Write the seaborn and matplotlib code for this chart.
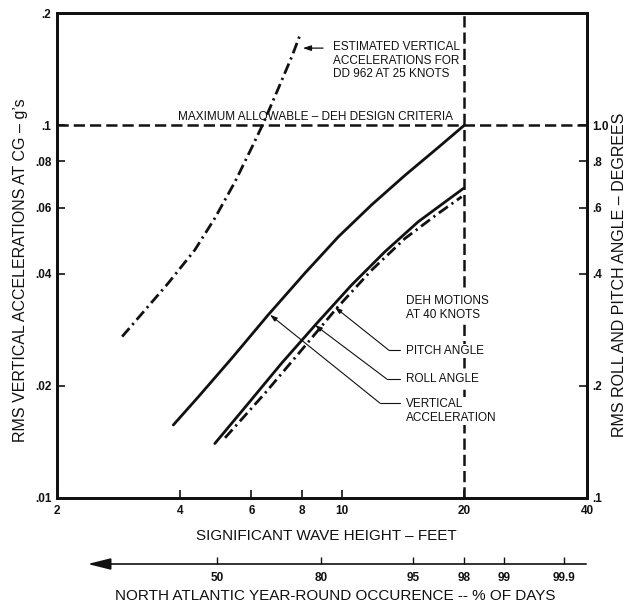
import numpy as np
import pandas as pd
import matplotlib
matplotlib.use("Agg")
import matplotlib.pyplot as plt
from matplotlib.ticker import FixedLocator, NullLocator, FixedFormatter
import seaborn as sns

# ---------------- data ----------------
va_wave = [3.86, 4.45, 5.37, 6.60, 8.12, 9.81, 11.85, 14.30, 17.26, 20.0]   # DEH vertical accel
va_g = [0.0157, 0.0187, 0.0237, 0.0310, 0.0401, 0.0502, 0.0612, 0.0734, 0.0872, 0.100]
roll_wave = [4.88, 5.90, 7.12, 8.68, 10.58, 12.77, 15.41, 19.9]            # DEH roll (deg)
roll_deg = [0.140, 0.1795, 0.230, 0.294, 0.373, 0.458, 0.551, 0.677]
pitch_wave = [5.17, 6.48, 7.97, 9.72, 11.85, 14.30, 17.26, 19.7]          # DEH pitch (deg)
pitch_deg = [0.145, 0.191, 0.2495, 0.323, 0.409, 0.497, 0.580, 0.643]
dd_wave = [2.89, 3.75, 4.36, 4.88, 5.47, 6.01, 6.42, 6.99, 7.54, 7.90]   # DD 962 at 25 knots
dd_g = [0.0271, 0.0377, 0.0463, 0.0563, 0.0705, 0.0870, 0.1012, 0.1256, 0.1527, 0.1746]

max_allow_g = 0.1
deh_wave_limit = 20

x_ticks = [2, 4, 6, 8, 10, 20, 40]
x_ticklabels = ['2', '4', '6', '8', '10', '20', '40']
y_ticks = [0.01, 0.02, 0.04, 0.06, 0.08, 0.1, 0.2]
y_ticklabels = ['.01', '.02', '.04', '.06', '.08', '.1', '.2']
r_ticks = [0.1, 0.2, 0.4, 0.6, 0.8, 1.0]
r_ticklabels = ['.1', '.2', '.4', '.6', '.8', '1.0']
occ_labels = ['50', '80', '95', '98', '99', '99.9']
occ_wave = [4.95, 8.9, 15.0, 20.0, 25.0, 35.1]

# ---------------- style ----------------
sns.set_style("white")
plt.rcParams['font.family'] = ['Liberation Sans', 'DejaVu Sans']
INK = '#111111'

W, H = 637, 603
fig = plt.figure(figsize=(W / 100, H / 100), dpi=100)
fig.patch.set_facecolor('white')

L, R, T, B = 57, 587, 13, 498
ax = fig.add_axes([L / W, (H - B) / H, (R - L) / W, (B - T) / H])
ax.set_xscale('log')
ax.set_yscale('log')
ax.set_xlim(2, 40)
ax.set_ylim(0.01, 0.2)
ax2 = ax.twinx()
ax2.set_yscale('log')
ax2.set_ylim(0.1, 2.0)

dashdot = (0, (4.0, 1.6, 0.8, 1.6))
dashed = (0, (4.5, 2.0))

# curves
sns.lineplot(x=va_wave, y=va_g, ax=ax, color=INK, lw=2.0, sort=False)
sns.lineplot(x=dd_wave, y=dd_g, ax=ax, color=INK, lw=2.0, linestyle=dashdot, sort=False)
sns.lineplot(x=roll_wave, y=roll_deg, ax=ax2, color=INK, lw=2.0, sort=False)
sns.lineplot(x=pitch_wave, y=pitch_deg, ax=ax2, color=INK, lw=2.0, linestyle=dashdot, sort=False)

# criteria lines
ax.axhline(max_allow_g, color=INK, lw=1.8, linestyle=dashed, zorder=1)
ax.vlines(deh_wave_limit, 0.0368, 0.2, color=INK, lw=1.8, linestyle=dashed, zorder=1)
ax.vlines(deh_wave_limit, 0.01, 0.0297, color=INK, lw=1.8, linestyle=dashed, zorder=1)

# ticks
for a in (ax, ax2):
    a.xaxis.set_minor_locator(NullLocator())
    a.yaxis.set_minor_locator(NullLocator())
ax.xaxis.set_major_locator(FixedLocator(x_ticks))
ax.xaxis.set_major_formatter(FixedFormatter(x_ticklabels))
ax.yaxis.set_major_locator(FixedLocator(y_ticks))
ax.yaxis.set_major_formatter(FixedFormatter(y_ticklabels))
ax2.yaxis.set_major_locator(FixedLocator(r_ticks))
ax2.yaxis.set_major_formatter(FixedFormatter(r_ticklabels))

tick_kw = dict(direction='in', length=6, width=1.2, colors=INK, labelsize=8.5)
ax.tick_params(axis='x', pad=5, bottom=True, top=False, **tick_kw)
ax.tick_params(axis='y', pad=4, left=True, right=False, **tick_kw)
ax2.tick_params(axis='y', pad=4, right=True, left=False, **tick_kw)
for lab in ax.get_xticklabels() + ax.get_yticklabels() + ax2.get_yticklabels():
    lab.set_fontweight('bold')

for a in (ax, ax2):
    for s in a.spines.values():
        s.set_linewidth(2.0)
        s.set_color(INK)
        s.set_visible(True)

# annotations
txt_kw = dict(fontsize=8.5, color=INK, linespacing=1.2)
ax.text(9.5, 0.149, "ESTIMATED VERTICAL\nACCELERATIONS FOR\nDD 962 AT 25 KNOTS",
        ha='left', va='center', **txt_kw)
ax.annotate('', xy=(7.9, 0.161), xytext=(9.14, 0.161),
            arrowprops=dict(arrowstyle='-|>,head_length=0.6,head_width=0.2',
                            lw=0.9, color=INK, mutation_scale=8))
ax.text(3.96, 0.1052, "MAXIMUM ALLOWABLE – DEH DESIGN CRITERIA",
        ha='left', va='center', **txt_kw)
box = dict(facecolor='white', edgecolor='none', pad=0.6)
ax.text(14.4, 0.0323, "DEH MOTIONS\nAT 40 KNOTS", ha='left', va='center',
        bbox=box, **txt_kw)
ax.text(14.4, 0.0248, "PITCH ANGLE", ha='left', va='center', bbox=box, **txt_kw)
ax.text(14.4, 0.02085, "ROLL ANGLE", ha='left', va='center', bbox=box, **txt_kw)
ax.text(14.4, 0.0171, "VERTICAL\nACCELERATION", ha='left', va='center',
        bbox=box, **txt_kw)

leaders = [((13.9, 0.0249), (13.06, 0.0249), (9.62, 0.0325)),
           ((13.9, 0.02085), (12.9, 0.02085), (8.6, 0.0291)),
           ((13.9, 0.01798), (12.4, 0.01798), (6.67, 0.0310))]
for p0, p1, tip in leaders:
    ax.plot([p0[0], p1[0]], [p0[1], p1[1]], color=INK, lw=0.8)
    ax.annotate('', xy=tip, xytext=p1,
                arrowprops=dict(arrowstyle='-|>,head_length=0.6,head_width=0.2',
                                lw=0.8, color=INK, mutation_scale=7,
                                shrinkA=0, shrinkB=0))

# axis titles
lab_kw = dict(fontsize=11, color=INK)
fig.text(21 / W, 1 - 270 / H, "RMS VERTICAL ACCELERATIONS AT CG – g’s",
         rotation=90, ha='center', va='center', fontsize=11.5, color=INK)
fig.text(620 / W, 1 - 275 / H, "RMS ROLL AND PITCH ANGLE – DEGREES",
         rotation=90, ha='center', va='center', fontsize=11.5, color=INK)
fig.text(326 / W, 1 - 536 / H, "SIGNIFICANT WAVE HEIGHT – FEET",
         ha='center', va='center', **lab_kw)
fig.text(335 / W, 1 - 596 / H, "NORTH ATLANTIC YEAR-ROUND OCCURENCE -- % OF DAYS",
         ha='center', va='center', **lab_kw)

# secondary occurrence scale
ax3 = fig.add_axes([L / W, (H - 564) / H, (R - L) / W, 0.005])
ax3.set_xscale('log')
ax3.set_xlim(2, 40)
ax3.set_ylim(0, 1)
ax3.patch.set_alpha(0)
for s in ax3.spines.values():
    s.set_visible(False)
ax3.set_yticks([])
ax3.xaxis.set_minor_locator(NullLocator())
ax3.xaxis.set_major_locator(FixedLocator(occ_wave))
ax3.xaxis.set_major_formatter(FixedFormatter(occ_labels))
ax3.tick_params(axis='x', direction='in', length=5, width=1.0, colors=INK,
                labelsize=8.5, pad=6, bottom=True, top=False)
for lab in ax3.get_xticklabels():
    lab.set_fontweight('bold')
ax3.annotate('', xy=(2.38, 0), xytext=(39.8, 0),
             xycoords=('data', 'axes fraction'), textcoords=('data', 'axes fraction'),
             arrowprops=dict(arrowstyle='-|>,head_length=1.4,head_width=0.35',
                             lw=1.2, color=INK, mutation_scale=10,
                             shrinkA=0, shrinkB=0))

fig.savefig("out.png", dpi=100, facecolor='white')
